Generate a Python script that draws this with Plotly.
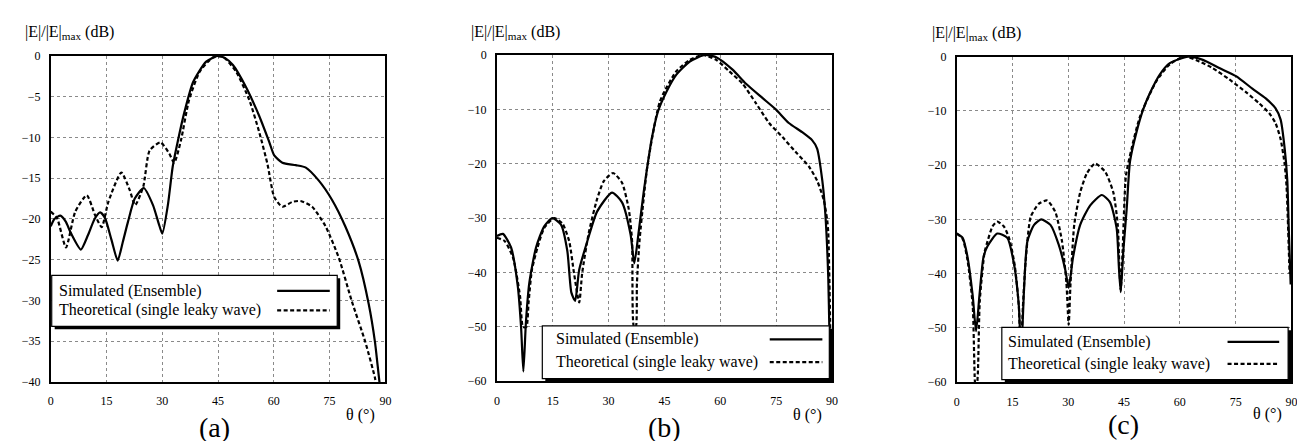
import plotly.graph_objects as go

W, H = 1305, 441

# ---------------- data ----------------
theta_ticks = [0, 15, 30, 45, 60, 75, 90]

# Panel (a)
a_sim_theta = [0, 1, 2.6, 4, 5.5, 8.1, 10, 11.8, 13.3, 14.6, 16.3, 18.0, 19.4, 20.8, 22.6, 25.0,
               27.5, 29, 30.0, 31.5, 32.8, 34.2, 36.0, 38.3, 41.8, 44.9, 47.0, 49, 52.5, 56.1, 58.8,
               60.1, 62.3, 65.9, 68.6, 72.1, 75.7, 79.2, 82.8, 85.5, 87.2, 88.4, 88.9]
a_sim_db = [-20.9, -20.0, -19.6, -20.3, -21.8, -23.75, -22.0, -20.0, -19.2, -19.9, -22.5, -25.1,
            -22.8, -20.3, -17.5, -16.2, -18.3, -20.5, -21.8, -18.3, -13.6, -10.4, -6.8, -3.2, -0.7,
            0.0, -0.3, -1.1, -3.8, -7.4, -10.6, -12.2, -13.1, -13.4, -13.7, -15.3, -17.7, -20.9,
            -25.2, -30.4, -35.1, -40.0, -41.5]
a_th_theta = [0, 1.7, 4.1, 6.6, 9.7, 11.9, 13.7, 15.5, 19.0, 21.2, 22.7, 24.9, 26.6, 29.5, 31.9,
              33.2, 35.0, 37.2, 40.1, 43.6, 46.3, 49.8, 53.4, 56.1, 58.3, 60.1, 62.3, 65.0, 67.2,
              70.3, 73.9, 77.5, 80.9, 84.6, 87.2, 87.8]
a_th_db = [-19.1, -19.9, -23.5, -19.1, -17.1, -19.5, -21.0, -17.9, -14.3, -16.4, -18.3, -16.0,
           -11.6, -10.6, -12.0, -13.1, -10.4, -5.4, -1.9, -0.2, -0.1, -1.9, -5.4, -9.4, -13.3,
           -17.3, -18.5, -17.9, -17.8, -18.5, -20.9, -24.8, -30.0, -35.1, -39.5, -41.0]

# Panel (b)
b_sim_theta = [0, 1.6, 3.8, 5.6, 6.5, 7.1, 7.8, 8.7, 10.5, 12.7, 14.9, 17.2, 18.9, 20.0, 21.0,
               22.1, 24.3, 26.9, 30.9, 33.6, 35.9, 36.9, 38.1, 39.4, 40.4, 41.6, 43.3, 45.5, 48.2,
               51.8, 55.8, 58.9, 63.3, 66.9, 71.3, 74.9, 78.4, 82.0, 84.7, 86.0, 87.4, 88.2, 89.0,
               89.3, 89.6]
b_sim_db = [-33.3, -32.9, -35.4, -42.5, -50.2, -58.2, -49.0, -41.9, -35.4, -31.5, -30.0, -31.2,
            -36.0, -43.7, -45.2, -39.5, -34.2, -28.8, -25.3, -27.1, -33.0, -38.3, -32.4, -25.3,
            -20.5, -15.3, -10.3, -6.8, -3.6, -1.2, 0.0, -0.4, -2.7, -5.3, -7.9, -10.0, -12.5,
            -14.2, -15.7, -17.2, -23.1, -29.1, -41.0, -51.0, -60.0]
b_th_theta = [0, 2.05, 4.3, 6.2, 7.0, 7.9, 8.5, 9.4, 10.9, 12.7, 15.4, 17.6, 19.4, 20.7, 22.1,
              22.9, 24.7, 26.9, 28.7, 31.2, 33.6, 35.4, 36.3, 36.8, 37.3, 37.6, 38.3, 39.4, 40.4,
              43.8, 48.2, 51.8, 55.4, 58.9, 62.4, 66.0, 69.6, 73.1, 76.7, 80.2, 83.8, 86.0, 87.8,
              88.7, 89.0, 89.4, 89.7]
b_th_db = [-33.6, -34.2, -37.2, -44.3, -50.0, -50.0, -45.5, -39.5, -35.4, -31.8, -30.0, -31.0,
           -34.2, -40.1, -45.5, -40.1, -32.6, -26.5, -23.2, -21.7, -23.5, -28.3, -34.2, -50.0,
           -50.0, -42.0, -34.2, -26.5, -20.5, -8.5, -3.0, -0.9, 0.0, -0.9, -3.0, -5.3, -8.9,
           -12.5, -15.1, -17.8, -20.5, -23.1, -26.7, -30.3, -32.7, -45.0, -60.0]

# Panel (c)
c_sim_theta = [0, 1.6, 2.9, 4.3, 5.2, 6.1, 7.2, 8.3, 10.9, 13.6, 15.4, 16.7, 17.3, 18.1, 19.0,
               20.8, 22.7, 25.2, 27.4, 29.2, 30.1, 31.3, 33.2, 35.9, 39.0, 41.2, 43.0, 43.6, 44.1,
               44.8, 45.7, 46.6, 48.3, 50.1, 51.9, 54.6, 57.3, 62.2, 66.2, 70.6, 75.1, 79.5, 83.1,
               85.7, 87.1, 88.2, 88.9, 89.3, 89.8]
c_sim_db = [-32.6, -33.4, -36.9, -44.1, -50.6, -44.1, -36.9, -34.9, -32.6, -33.4, -38.2, -45.9,
            -55.0, -42.9, -34.0, -31.0, -30.0, -31.0, -34.6, -39.3, -42.6, -36.9, -31.0, -27.4,
            -25.5, -26.8, -31.6, -38.7, -43.4, -35.8, -28.1, -19.3, -14.0, -9.8, -6.8, -3.3,
            -1.2, 0.0, -0.6, -2.1, -3.6, -5.9, -7.7, -9.5, -11.6, -17.0, -22.9, -32.0, -42.0]
c_th_theta = [0, 1.6, 2.9, 4.3, 4.9, 5.3, 5.7, 6.2, 7.5, 8.3, 9.6, 10.9, 12.7, 14.2, 15.6, 16.7,
              17.2, 17.8, 18.5, 19.9, 22.1, 24.3, 26.5, 28.3, 29.5, 30.1, 30.6, 31.6, 33.2, 35.0,
              37.2, 39.9, 42.1, 43.3, 43.7, 44.1, 44.6, 45.5, 47.0, 49.3, 53.7, 57.3, 61.3, 65.3,
              68.8, 73.3, 77.7, 81.3, 84.0, 85.7, 87.1, 88.2, 88.7, 89.5]
c_th_db = [-32.6, -33.6, -37.5, -45.9, -60.0, -62.0, -58.0, -45.0, -36.0, -34.0, -31.3, -30.4,
           -31.3, -33.7, -38.5, -46.0, -55.0, -46.0, -38.0, -29.5, -27.1, -26.5, -28.6, -34.0,
           -41.8, -49.4, -41.8, -31.0, -25.0, -21.5, -19.7, -21.2, -25.0, -31.0, -38.0, -43.0,
           -36.0, -22.0, -17.0, -11.0, -4.5, -1.4, 0.0, -0.9, -2.1, -4.2, -6.5, -8.6, -10.4,
           -12.2, -15.2, -19.9, -24.0, -40.0]

sim_name = "Simulated (Ensemble)"
th_name = "Theoretical (single leaky wave)"
y_title = "|E|/|E|<sub>max</sub> (dB)"
x_title = "θ (°)"
panel_labels = ["(a)", "(b)", "(c)"]

# ---------------- layout helpers ----------------
def fx(p):
    return p / W

def fy(p):
    return 1 - p / H

SERIF = "Liberation Serif"

panels = [
    dict(sim=(a_sim_theta, a_sim_db), th=(a_th_theta, a_th_db), yr=[-40, 0], dt=5,
         box=(40, 42.3, 377, 379), ytit=(12, 18), xtit=(352, 413), lab=(205, 426),
         leg=(41, 269, 328.5, 321.5), rows=(285, 305), tx=46, lx=(268, 321)),
    dict(sim=(b_sim_theta, b_sim_db), th=(b_th_theta, b_th_db), yr=[-60, 0], dt=10,
         box=(489.3, 41.3, 826.7, 378.3), ytit=(461, 18), xtit=(802, 413), lab=(658, 426),
         leg=(535, 321, 824, 375.5), rows=(335, 358.5), tx=546.5, lx=(764, 817)),
    dict(sim=(c_sim_theta, c_sim_db), th=(c_th_theta, c_th_db), yr=[-60, 0], dt=10,
         box=(952.3, 43, 1289.3, 379.3), ytit=(925, 19), xtit=(1265, 412), lab=(1120, 423),
         leg=(997.7, 322.7, 1286, 376.5), rows=(337.5, 360.3), tx=1001.5, lx=(1225, 1277)),
]

fig = go.Figure()
shapes = []
annotations = []
layout_axes = {}

for i, p in enumerate(panels):
    sfx = "" if i == 0 else str(i + 1)
    xa, ya = "x" + sfx, "y" + sfx
    x0, y0, x1, y1 = p["box"]
    fig.add_trace(go.Scatter(
        x=p["sim"][0], y=p["sim"][1], xaxis=xa, yaxis=ya, mode="lines", name=sim_name,
        showlegend=False,
        line=dict(color="black", width=2.2, shape="spline", smoothing=0.6)))
    fig.add_trace(go.Scatter(
        x=p["th"][0], y=p["th"][1], xaxis=xa, yaxis=ya, mode="lines", name=th_name,
        showlegend=False,
        line=dict(color="black", width=2.2, dash="4px,2.5px", shape="spline", smoothing=0.6)))

    common = dict(showgrid=True, gridcolor="#8a8a8a", griddash="dot", gridwidth=1,
                  showline=True, linecolor="black", linewidth=1.8, mirror=True,
                  ticks="", zeroline=False,
                  tickfont=dict(family=SERIF, size=12, color="black"))
    layout_axes["xaxis" + sfx] = dict(domain=[fx(x0), fx(x1)], range=[0, 90],
                                      tickvals=theta_ticks, anchor=ya,
                                      ticklabelstandoff=7, **common)
    layout_axes["yaxis" + sfx] = dict(domain=[fy(y1), fy(y0)], range=p["yr"],
                                      dtick=p["dt"], tick0=0, anchor=xa,
                                      ticklabelstandoff=6, **common)

    # titles
    annotations.append(dict(text=y_title, x=fx(p["ytit"][0]), y=fy(p["ytit"][1]),
                            xref="paper", yref="paper", xanchor="left", yanchor="middle",
                            showarrow=False, font=dict(family=SERIF, size=16, color="black")))
    annotations.append(dict(text=x_title, x=fx(p["xtit"][0]), y=fy(p["xtit"][1]),
                            xref="paper", yref="paper", xanchor="center", yanchor="middle",
                            showarrow=False, font=dict(family=SERIF, size=16, color="black")))
    annotations.append(dict(text=panel_labels[i], x=fx(p["lab"][0]), y=fy(p["lab"][1]),
                            xref="paper", yref="paper", xanchor="center", yanchor="middle",
                            showarrow=False, font=dict(family=SERIF, size=28, color="black")))

    # legend box (text left, line sample right) with drop shadow
    lx0, ly0, lx1, ly1 = p["leg"]
    shapes.append(dict(type="rect", xref="paper", yref="paper", layer="above",
                       x0=fx(lx0 + 3), x1=fx(lx1 + 3), y0=fy(ly1 + 3), y1=fy(ly0 + 3),
                       fillcolor="black", line=dict(width=0)))
    shapes.append(dict(type="rect", xref="paper", yref="paper", layer="above",
                       x0=fx(lx0), x1=fx(lx1), y0=fy(ly1), y1=fy(ly0),
                       fillcolor="white", line=dict(color="black", width=1.2)))
    for r, (nm, dash) in enumerate([(sim_name, "solid"), (th_name, "4px,2.5px")]):
        ry = p["rows"][r]
        annotations.append(dict(text=nm, x=fx(p["tx"]), y=fy(ry), xref="paper", yref="paper",
                                xanchor="left", yanchor="middle", showarrow=False,
                                font=dict(family=SERIF, size=16, color="black")))
        shapes.append(dict(type="line", xref="paper", yref="paper", layer="above",
                           x0=fx(p["lx"][0]), x1=fx(p["lx"][1]), y0=fy(ry), y1=fy(ry),
                           line=dict(color="black", width=2.2, dash=dash)))

fig.update_layout(
    width=W, height=H, margin=dict(l=0, r=0, t=0, b=0),
    paper_bgcolor="white", plot_bgcolor="white", showlegend=False,
    font=dict(family=SERIF, color="black"),
    shapes=shapes, annotations=annotations, **layout_axes)

fig.write_html("out.html")
